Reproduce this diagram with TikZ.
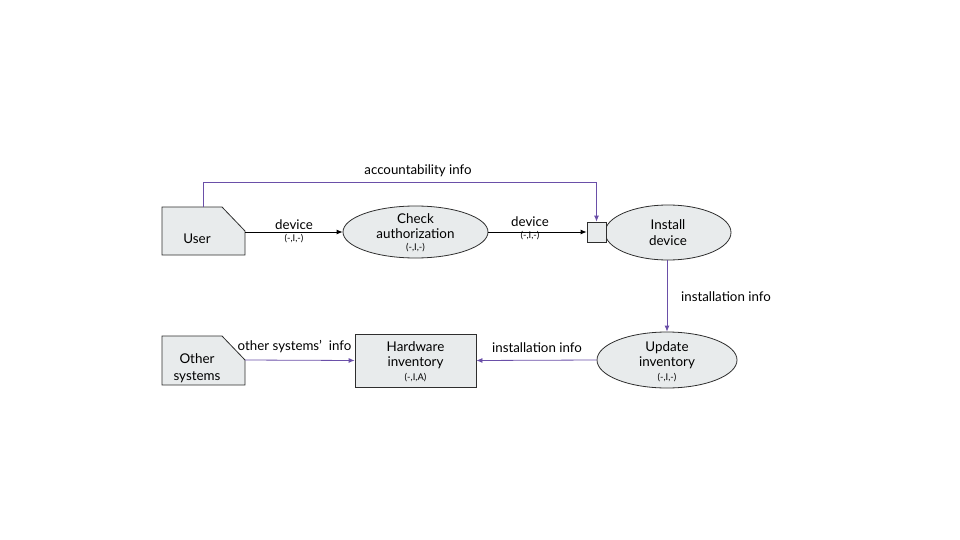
\documentclass[tikz,border=0pt]{standalone}
\usepackage{fontspec}
\setmainfont{Lato}
\usetikzlibrary{shapes.geometric,arrows.meta}
\definecolor{nodefill}{HTML}{E8EBEC}
\definecolor{nodeline}{HTML}{2E2E2E}
\definecolor{flowpurple}{HTML}{6A4FA8}
\tikzset{
  proc/.style={ellipse,draw=nodeline,fill=nodefill,line width=0.8pt,inner sep=0pt,align=center},
  store/.style={rectangle,draw=nodeline,fill=nodefill,line width=0.8pt,inner sep=0pt,align=center},
  ext/.style={draw=nodeline,fill=nodefill,line width=0.8pt},
  txt/.style={font=\fontsize{13.4}{17}\selectfont,align=center,inner sep=0pt},
  small/.style={font=\fontsize{9.3}{11}\selectfont,inner sep=0pt},
  lbl/.style={font=\fontsize{13.3}{16}\selectfont,inner sep=0pt},
  flowblack/.style={draw=black,line width=0.8pt,-{Latex[length=6pt,width=5pt]}},
  flowp/.style={draw=flowpurple,line width=0.8pt,-{Latex[length=6pt,width=5pt]}},
}
\begin{document}
\begin{tikzpicture}[x=1pt,y=-1pt]
\useasboundingbox (0,0) rectangle (960,540);
% external entities with folded corner
\draw[ext] (162,207) -- (222,207) -- (245,231) -- (245,255) -- (162,255) -- cycle;
\node[txt] (user) at (197,239) {User};
\coordinate (userR) at (245,232);
\coordinate (userT) at (203,207);
\draw[ext] (162,336) -- (222,336) -- (245,360) -- (245,385) -- (162,385) -- cycle;
\node[txt] (other) at (197,368) {Other\\systems};
\coordinate (otherR) at (245,360);

% processes
\node[proc,minimum width=145pt,minimum height=52pt] (check) at (415.5,232) {};
\node[txt] at (415.5,219) {Check};
\node[txt] at (415.5,234) {authorization};
\node[small] at (415.5,247.5) {(-,I,-)};

\node[proc,minimum width=126pt,minimum height=55pt] (install) at (668,232.5) {};
\node[txt] at (668,225) {Install};
\node[txt] at (668,241) {device};

\node[proc,minimum width=140pt,minimum height=56pt] (update) at (667,360) {};
\node[txt] at (667,348) {Update};
\node[txt] at (667,363) {inventory};
\node[small] at (667,377.5) {(-,I,-)};

% data store
\node[store,minimum width=121pt,minimum height=53pt] (hw) at (415.5,360.5) {};
\node[txt] at (415.5,347) {Hardware};
\node[txt] at (415.5,363) {inventory};
\node[small] at (415.5,377.5) {(-,I,A)};

% small junction box
\node[store,minimum width=19pt,minimum height=20pt] (junc) at (596.5,232) {};

% flows
\draw[flowblack] (userR) -- (check.west);
\node[lbl] at (294,225) {device};
\node[small] at (294,238.5) {(-,I,-)};
\draw[flowblack] (check.east) -- (junc.west);
\node[lbl] at (530,222) {device};
\node[small] at (530,235.5) {(-,I,-)};

\draw[flowp] (userT) -- (203,182) -- (596.5,182) -- (junc.north);
\node[lbl] at (418,171) {accountability info};

\draw[flowp] (install.south -| update.north) -- (update.north);
\node[lbl] at (726,297) {installation info};

\draw[flowp] (update.west) -- (hw.east);
\node[lbl] at (537,348) {installation info};

\draw[flowp] (otherR) -- (hw.west);
\node[lbl] at (294.5,347) {other systems'\ \ info};
\end{tikzpicture}
\end{document}
